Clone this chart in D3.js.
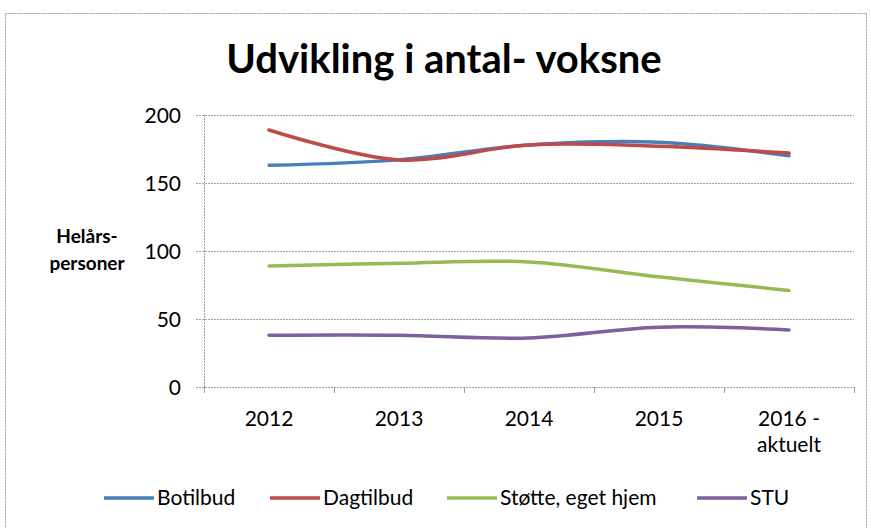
<!DOCTYPE html>
<html>
<head>
<meta charset="utf-8">
<script src="https://cdn.jsdelivr.net/npm/d3@7"></script>
<style>
  body { margin: 0; background: #fff; }
  text { font-family: Lato, 'Open Sans', sans-serif; fill: #000; }
</style>
</head>
<body>
<svg id="chart" width="871" height="528"></svg>
<script>
const categories = ['2012', '2013', '2014', '2015', '2016 -\naktuelt'];
const botilbud = [163, 167, 178, 180, 170];
const dagtilbud = [189, 167, 178, 177, 172];
const stotte = [89, 91, 92, 81, 71];
const stu = [38, 38, 36, 44, 42];
const yTicks = [0, 50, 100, 150, 200];

const series = [
  { name: 'Botilbud', values: botilbud, color: '#4a7ebb' },
  { name: 'Dagtilbud', values: dagtilbud, color: '#be4b48' },
  { name: 'Støtte, eget hjem', values: stotte, color: '#98b954' },
  { name: 'STU', values: stu, color: '#7d60a0' }
];

const svg = d3.select('#chart');

// ramme
svg.append('rect')
  .attr('x', 5.5).attr('y', 13.5)
  .attr('width', 861).attr('height', 540)
  .attr('fill', 'none')
  .attr('stroke', '#9a9a9a')
  .attr('stroke-dasharray', '2,1');

svg.append('text')
  .attr('x', 444).attr('y', 73)
  .attr('text-anchor', 'middle')
  .style('font-size', '40px')
  .style('font-weight', 'bold')
  .text('Udvikling i antal- voksne');

const x = d3.scaleBand().domain(categories).range([204, 854]).paddingInner(0).paddingOuter(0);
const y = d3.scaleLinear().domain([0, 200]).range([387, 115]);

// gitterlinjer
const gy = svg.append('g')
  .attr('transform', 'translate(204,0)')
  .call(d3.axisLeft(y).tickValues(yTicks).tickSize(-650).tickPadding(23).tickSizeOuter(0));
gy.select('.domain').remove();
gy.selectAll('.tick line')
  .attr('stroke', '#a0a0a0')
  .attr('stroke-dasharray', '2,1')
  .attr('x1', -8);
gy.selectAll('.tick text')
  .style('font-size', '21px')
  .style('font-family', 'Lato, sans-serif')
  .attr('fill', '#222')
  .attr('dy', '0.35em');

// y-akse linje
svg.append('line')
  .attr('x1', 204.5).attr('x2', 204.5)
  .attr('y1', 115).attr('y2', 387)
  .attr('stroke', '#a0a0a0')
  .attr('stroke-dasharray', '2,1');

// x-akse tick marks
const bounds = categories.map(c => x(c)).concat([x.range()[1]]);
svg.selectAll('.xtick')
  .data(bounds)
  .enter()
  .append('line')
  .attr('class', 'xtick')
  .attr('x1', d => d + 0.5).attr('x2', d => d + 0.5)
  .attr('y1', 387).attr('y2', 393)
  .attr('stroke', '#a0a0a0');

// x labels
svg.selectAll('.xlabel')
  .data(categories)
  .enter()
  .append('text')
  .attr('class', 'xlabel')
  .attr('text-anchor', 'middle')
  .attr('x', d => x(d) + x.bandwidth() / 2)
  .attr('y', 426)
  .style('font-size', '21px')
  .attr('fill', '#222')
  .each(function(d) {
    const parts = d.split('\n');
    d3.select(this).selectAll('tspan')
      .data(parts)
      .enter()
      .append('tspan')
      .attr('x', x(d) + x.bandwidth() / 2)
      .attr('dy', (p, i) => (i === 0 ? 0 : 26))
      .text(p => p);
  });

// akse titel
svg.append('text')
  .attr('text-anchor', 'middle')
  .attr('x', 87).attr('y', 243)
  .style('font-size', '19px')
  .style('font-weight', 'bold')
  .selectAll('tspan')
  .data(['Helårs-', 'personer'])
  .enter()
  .append('tspan')
  .attr('x', 87)
  .attr('dy', (d, i) => (i === 0 ? 0 : 27))
  .text(d => d);

const line = d3.line()
  .x((d, i) => x(categories[i]) + x.bandwidth() / 2)
  .y(d => y(d))
  .curve(d3.curveCatmullRom.alpha(0.5));

svg.selectAll('.series')
  .data(series)
  .enter()
  .append('path')
  .attr('class', 'series')
  .attr('fill', 'none')
  .attr('stroke', d => d.color)
  .attr('stroke-width', 3.5)
  .attr('stroke-linecap', 'round')
  .attr('d', d => line(d.values));

// legende
const legendX = [104, 270, 447, 697];
const legend = svg.selectAll('.legend')
  .data(series)
  .enter()
  .append('g')
  .attr('class', 'legend')
  .attr('transform', (d, i) => `translate(${legendX[i]},498)`);
legend.append('line')
  .attr('x1', 0).attr('x2', 50)
  .attr('stroke', d => d.color)
  .attr('stroke-width', 3.5);
legend.append('text')
  .attr('x', 53)
  .attr('dy', '0.35em')
  .style('font-size', '21px')
  .attr('fill', '#222')
  .text(d => d.name);
</script>
</body>
</html>
